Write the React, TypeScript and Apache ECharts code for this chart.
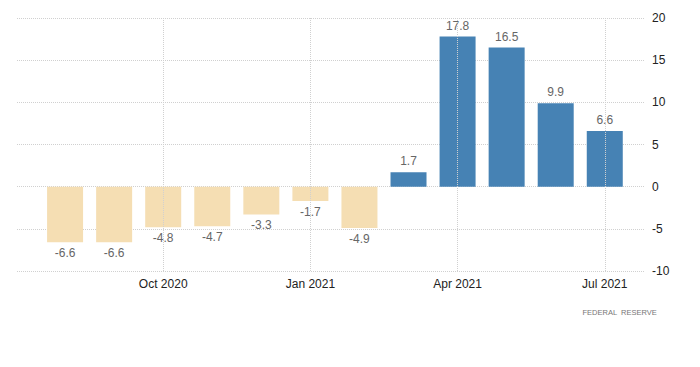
import React, { useEffect, useRef } from "react";
import * as echarts from "echarts";

const categories = [
  "Aug 2020", "Sep 2020", "Oct 2020", "Nov 2020", "Dec 2020", "Jan 2021",
  "Feb 2021", "Mar 2021", "Apr 2021", "May 2021", "Jun 2021", "Jul 2021",
];
const values = [-6.6, -6.6, -4.8, -4.7, -3.3, -1.7, -4.9, 1.7, 17.8, 16.5, 9.9, 6.6];
const labeledIndices = [2, 5, 8, 11];
const yTicks = { min: -10, max: 20, interval: 5 };
const sourceText = "FEDERAL  RESERVE";

const POS = "#4682B4";
const NEG = "#F5DEB3";
const FONT = "Liberation Sans, Arial, sans-serif";

export default function App() {
  const ref = useRef<HTMLDivElement>(null);
  useEffect(() => {
    if (!ref.current) return;
    const chart = echarts.init(ref.current, null, { renderer: "svg" });
    const data = values.map((v, i) => ({
      value: [i, v],
      itemStyle: { color: v >= 0 ? POS : NEG },
      label: { position: v >= 0 ? "top" : "bottom" },
    }));
    chart.setOption({
      animation: false,
      backgroundColor: "#fff",
      grid: { left: 17, right: 55, top: 18, bottom: 96, containLabel: false },
      xAxis: {
        type: "value",
        min: -0.98,
        max: 11.82,
        axisLine: { show: false },
        axisTick: { show: false },
        splitLine: { show: false },
        axisLabel: {
          customValues: labeledIndices,
          formatter: (v: number) => categories[Math.round(v)] ?? "",
          color: "#222",
          fontSize: 12,
          fontFamily: FONT,
          margin: 7,
        },
      },
      yAxis: {
        type: "value",
        position: "right",
        min: yTicks.min,
        max: yTicks.max,
        interval: yTicks.interval,
        axisLine: { show: false },
        axisTick: { show: false },
        axisLabel: { color: "#222", fontSize: 12, fontFamily: FONT, margin: 7 },
        splitLine: { lineStyle: { color: "#d0d0d0", type: "dotted", width: 1 } },
      },
      series: [
        {
          type: "bar",
          barWidth: 36,
          data,
          label: {
            show: true,
            color: "#666",
            fontSize: 12,
            fontFamily: FONT,
            distance: 5,
            formatter: (p: any) => String(p.value[1]),
          },
          markLine: {
            silent: true,
            symbol: "none",
            label: { show: false },
            lineStyle: { color: "#d0d0d0", type: "dotted", width: 1 },
            data: labeledIndices.map((i) => ({ xAxis: i })),
          },
        },
      ],
      graphic: [
        {
          type: "text",
          right: 43,
          top: 308,
          style: { text: sourceText, fill: "#777", fontSize: 7.5, fontFamily: FONT },
        },
      ],
    });
    return () => chart.dispose();
  }, []);
  return (
    <div
      ref={ref}
      style={{ position: "absolute", left: 0, top: 0, width: 700, height: 367 }}
    />
  );
}
